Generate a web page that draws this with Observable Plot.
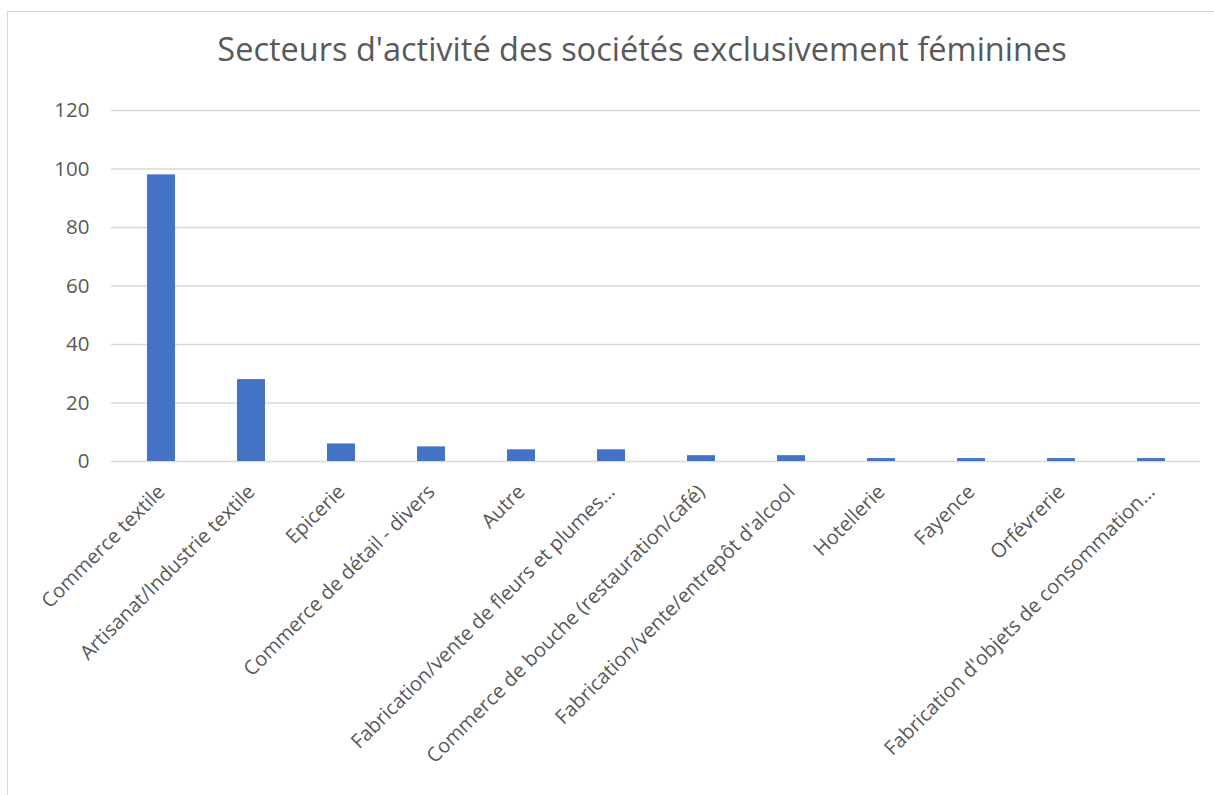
<!DOCTYPE html>
<html>
<head>
<meta charset="utf-8">
<script src="https://cdn.jsdelivr.net/npm/d3@7"></script>
<script src="https://cdn.jsdelivr.net/npm/@observablehq/plot@0.6"></script>
<style>
  html, body { margin: 0; padding: 0; background: #fff; overflow: hidden; }
  #wrap { position: relative; width: 1214px; height: 795px; }
  #frame { position: absolute; left: 7px; top: 11px; width: 1220px; height: 800px; border: 1px solid #d9d9d9; box-sizing: border-box; }
  #title { position: absolute; left: 642px; top: 33px; transform: translateX(-50%); white-space: nowrap;
           font-family: "Open Sans", sans-serif; font-size: 32.5px; color: #595959; line-height: 1; }
  #chart { position: absolute; left: 0; top: 0; }
</style>
</head>
<body>
<div id="wrap">
  <div id="frame"></div>
  <div id="chart"></div>
  <div id="title">Secteurs d'activité des sociétés exclusivement féminines</div>
</div>
<script>
const categories = [
  "Commerce textile",
  "Artisanat/Industrie textile",
  "Epicerie",
  "Commerce de détail - divers",
  "Autre",
  "Fabrication/vente de fleurs et plumes…",
  "Commerce de bouche (restauration/café)",
  "Fabrication/vente/entrepôt d'alcool",
  "Hotellerie",
  "Fayence",
  "Orfévrerie",
  "Fabrication d'objets de consommation…"
];
const values = [98, 28, 6, 5, 4, 4, 2, 2, 1, 1, 1, 1];
const yTicks = [0, 20, 40, 60, 80, 100, 120];

const data = categories.map((c, i) => ({category: c, value: values[i]}));

const chart = Plot.plot({
  width: 1214,
  height: 795,
  marginTop: 110,
  marginBottom: 334,
  marginLeft: 111,
  marginRight: 14,
  style: {fontFamily: "'Open Sans', sans-serif", color: "#595959", background: "transparent"},
  x: {domain: categories, paddingInner: 0.69, paddingOuter: 0.345, label: null},
  y: {domain: [0, 120], ticks: yTicks, label: null},
  marks: [
    Plot.gridY(yTicks, {stroke: "#d9d9d9", strokeOpacity: 1, strokeWidth: 1.3}),
    Plot.barY(data, {x: "category", y: "value", fill: "#4472c4"}),
    Plot.axisY(yTicks, {tickSize: 0, tickPadding: 22, fontSize: 20.5, fill: "#595959", tickFormat: d => d}),
    Plot.axisX({tickRotate: -45, tickSize: 0, tickPadding: 27, fontSize: 20, fill: "#595959", dx: 0})
  ]
});
document.getElementById("chart").appendChild(chart);
</script>
</body>
</html>
